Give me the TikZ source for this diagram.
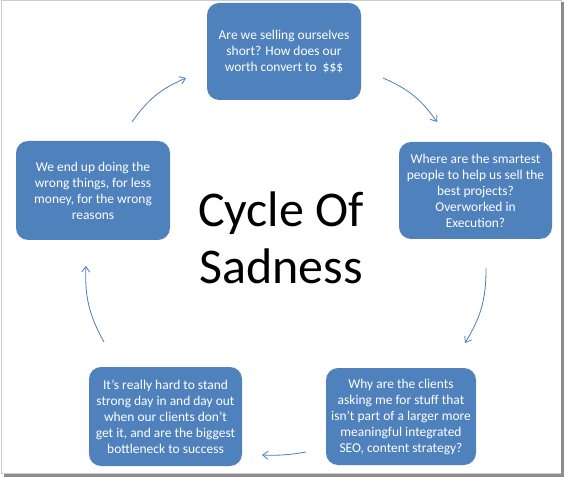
\documentclass[tikz,border=0pt]{standalone}
\usepackage{fontspec}
\setmainfont{Carlito}
\usetikzlibrary{arrows.meta}
\definecolor{boxblue}{HTML}{4F81BD}
\definecolor{arrowblue}{HTML}{4A7EBB}
\begin{document}
\begin{tikzpicture}[x=0.75pt,y=0.75pt,
  cbox/.style={draw=none,fill=boxblue,rounded corners=9pt,text=white,align=center,
    font=\fontsize{10.1pt}{12pt}\selectfont,inner sep=0pt},
  carrow/.style={draw=arrowblue,line width=0.6pt,-{Straight Barb[length=4pt,width=6pt]},bend left=16}]
\useasboundingbox (0,0) rectangle (564,-477);
% frame
\draw[black!20,line width=0.75pt] (1,-1) rectangle (561,-473);
\draw[black!45,line width=2pt] (562.5,-2) -- (562.5,-475.5) -- (4,-475.5);
% boxes
\node[cbox,minimum width=154*0.75pt,minimum height=97*0.75pt] (top) at (284,-51.5)
  {Are we selling ourselves\\short? How does our\\worth convert to \ \$\$\$};
\node[cbox,minimum width=153*0.75pt,minimum height=97*0.75pt] (right) at (475.5,-190.5)
  {Where are the smartest\\people to help us sell the\\best projects?\\Overworked in\\Execution?};
\node[cbox,minimum width=150*0.75pt,minimum height=97*0.75pt] (br) at (401,-416.5)
  {Why are the clients\\asking me for stuff that\\isn’t part of a larger more\\meaningful integrated\\SEO, content strategy?};
\node[cbox,minimum width=153*0.75pt,minimum height=99*0.75pt] (bl) at (165.5,-416.5)
  {It’s really hard to stand\\strong day in and day out\\when our clients don’t\\get it, and are the biggest\\bottleneck to success};
\node[cbox,minimum width=154*0.75pt,minimum height=99*0.75pt] (left) at (93,-190.5)
  {We end up doing the\\wrong things, for less\\money, for the wrong\\reasons};
% title
\node[align=center,font=\fontsize{37.5pt}{43pt}\selectfont,inner sep=0pt] (title) at (281,-238)
  {Cycle Of\\Sadness};
% arrow end points
\coordinate (a1s) at (383,-78);  \coordinate (a1e) at (437,-122);
\coordinate (a2s) at (486,-268); \coordinate (a2e) at (465,-343);
\coordinate (a3s) at (306,-452); \coordinate (a3e) at (262,-455);
\coordinate (a4s) at (104,-342); \coordinate (a4e) at (86,-266);
\coordinate (a5s) at (132,-122); \coordinate (a5e) at (186,-78);
\draw[carrow] (a1s) to (a1e);
\draw[carrow] (a2s) to (a2e);
\draw[carrow,bend left=6] (a3s) to (a3e);
\draw[carrow] (a4s) to (a4e);
\draw[carrow] (a5s) to (a5e);
\end{tikzpicture}
\end{document}
